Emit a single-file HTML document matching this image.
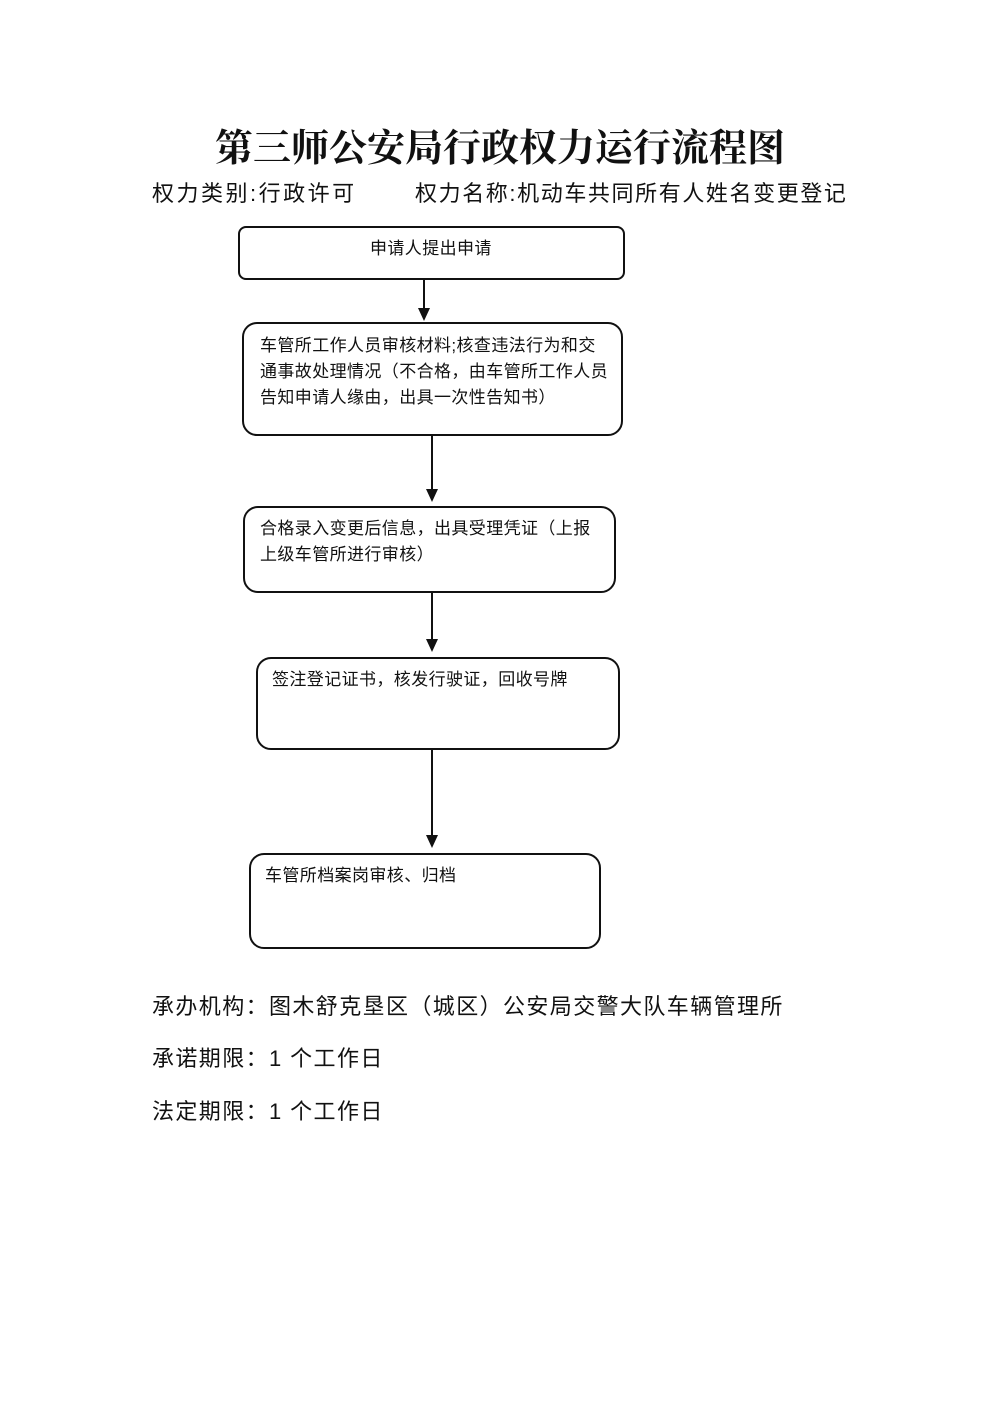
<!DOCTYPE html>
<html><head><meta charset="utf-8"><style>
body{margin:0;width:1000px;height:1414px;background:#fff;position:relative;font-family:"Liberation Sans","Noto Sans CJK SC",sans-serif;color:#111;overflow:hidden}
.a{position:absolute;white-space:nowrap}
.box{position:absolute;border:2px solid #111;box-sizing:border-box;background:#fff}
.bt{position:absolute;font-size:17px;letter-spacing:0.4px;line-height:26px;white-space:nowrap}
.t{font-family:"Liberation Serif","Noto Serif CJK SC",serif;font-weight:bold;font-size:38px;left:0;width:1000px;text-align:center;top:117px}
.s{font-size:22px;top:176px}
.b{font-size:22px;letter-spacing:1.4px}
</style></head><body>
<div class="a t">第三师公安局行政权力运行流程图</div>
<div class="a s" style="left:152px;letter-spacing:2.5px">权力类别:行政许可</div>
<div class="a s" style="left:415px;letter-spacing:1.6px">权力名称:机动车共同所有人姓名变更登记</div>

<div class="box" style="left:238px;top:226px;width:387px;height:54px;border-radius:8px"></div>
<div class="bt" style="left:370px;top:236px">申请人提出申请</div>

<div class="box" style="left:242px;top:322px;width:381px;height:114px;border-radius:15px"></div>
<div class="bt" style="left:260px;top:333px">车管所工作人员审核材料;核查违法行为和交<br>通事故处理情况（不合格，由车管所工作人员<br>告知申请人缘由，出具一次性告知书）</div>

<div class="box" style="left:243px;top:506px;width:373px;height:87px;border-radius:15px"></div>
<div class="bt" style="left:260px;top:516px">合格录入变更后信息，出具受理凭证（上报<br>上级车管所进行审核）</div>

<div class="box" style="left:256px;top:657px;width:364px;height:93px;border-radius:15px"></div>
<div class="bt" style="left:272px;top:667px">签注登记证书，核发行驶证，回收号牌</div>

<div class="box" style="left:249px;top:853px;width:352px;height:96px;border-radius:15px"></div>
<div class="bt" style="left:265px;top:863px">车管所档案岗审核、归档</div>

<svg class="a" style="left:0;top:0" width="1000" height="1000">
<g stroke="#111" stroke-width="2" fill="#111">
<line x1="424" y1="280" x2="424" y2="310"/><polygon points="418,308 430,308 424,321" stroke="none"/>
<line x1="432" y1="436" x2="432" y2="491"/><polygon points="426,489 438,489 432,502" stroke="none"/>
<line x1="432" y1="593" x2="432" y2="641"/><polygon points="426,639 438,639 432,652" stroke="none"/>
<line x1="432" y1="750" x2="432" y2="837"/><polygon points="426,835 438,835 432,848" stroke="none"/>
</g></svg>

<div class="a b" style="left:152px;top:989px">承办机构：图木舒克垦区（城区）公安局交警大队车辆管理所</div>
<div class="a b" style="left:152px;top:1041px">承诺期限：1 个工作日</div>
<div class="a b" style="left:152px;top:1094px">法定期限：1 个工作日</div>
</body></html>
